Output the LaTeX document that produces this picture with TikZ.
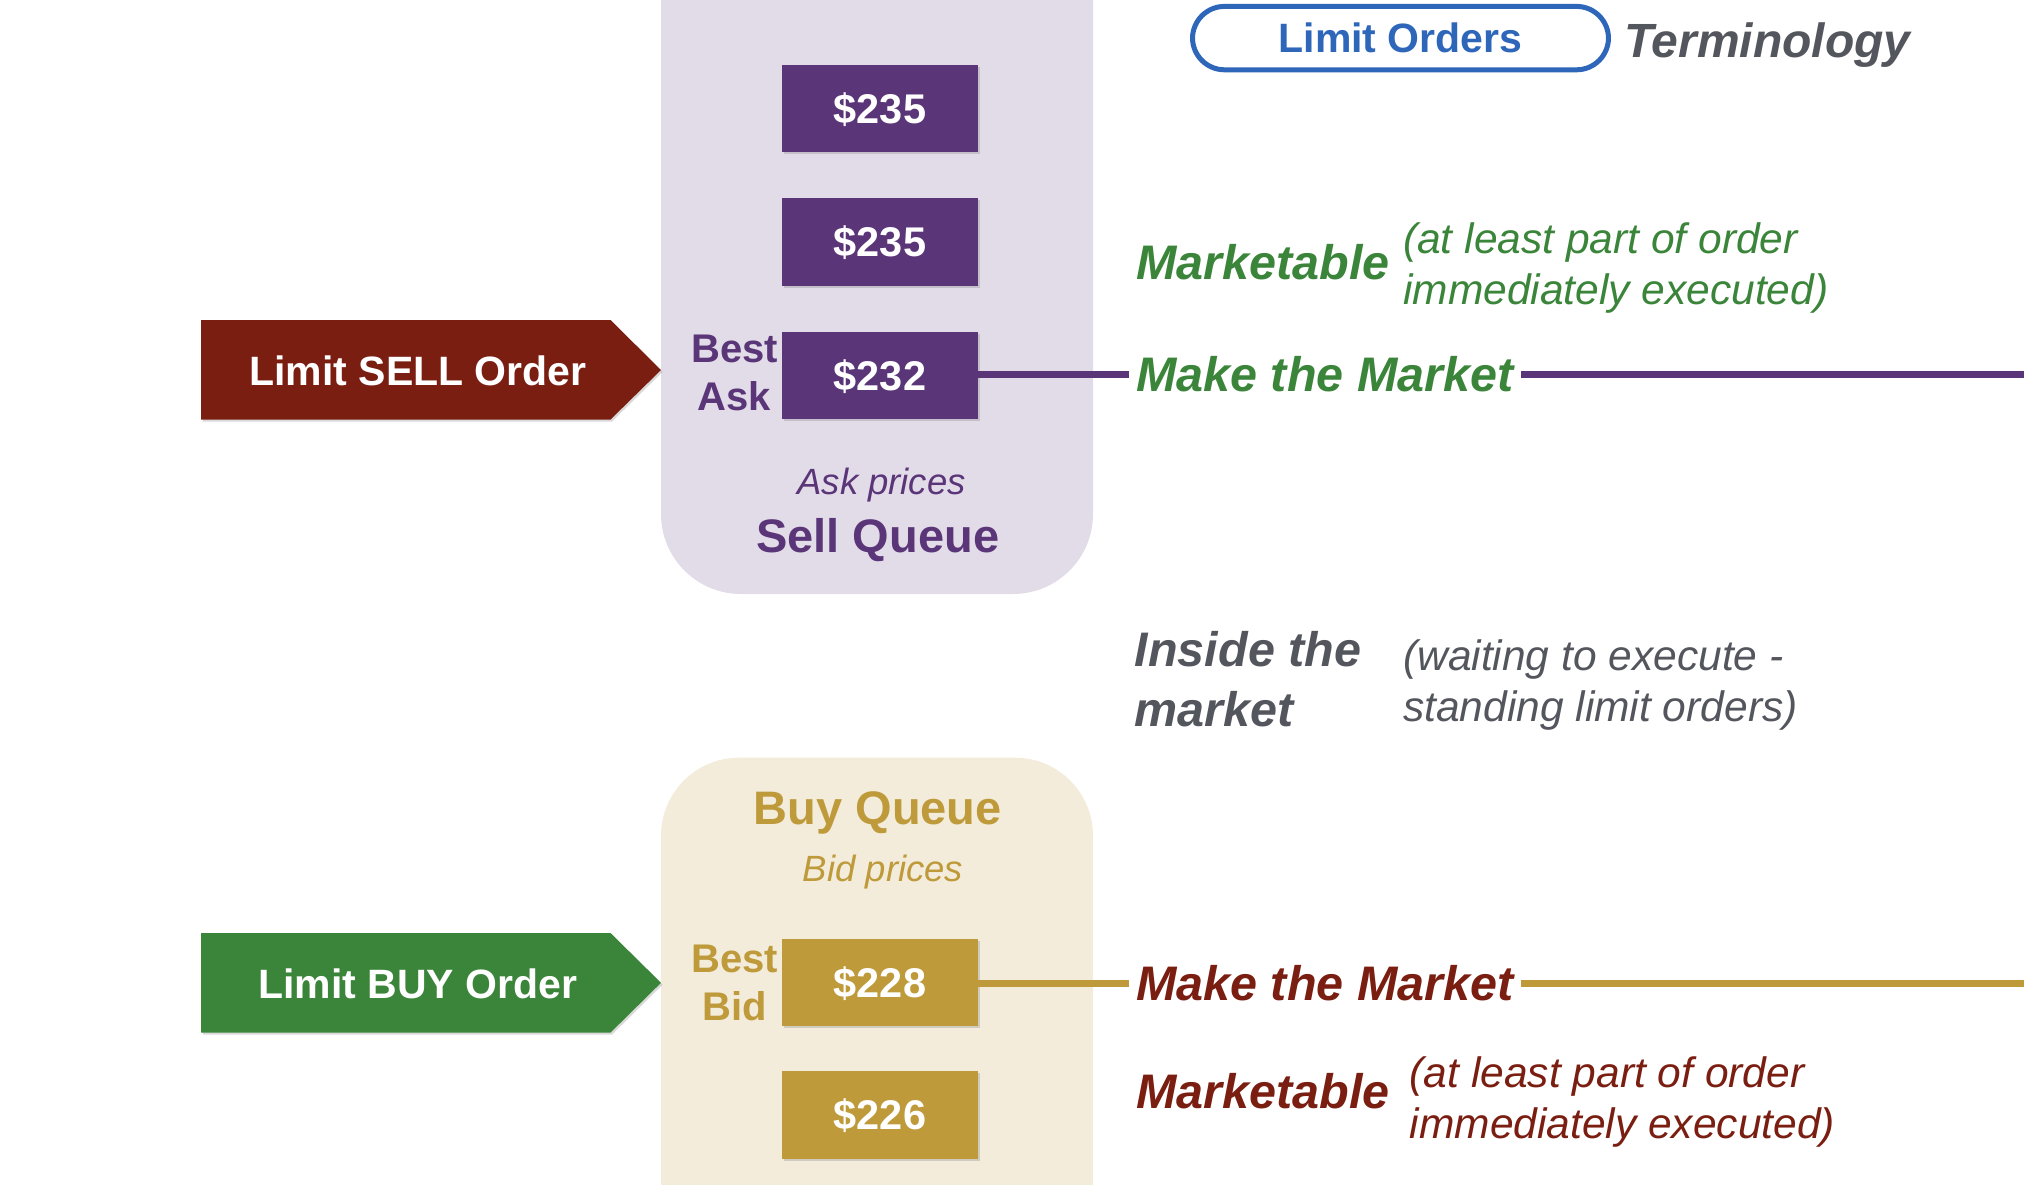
\documentclass[tikz,border=0pt]{standalone}
\usepackage{fontspec}
\setmainfont{Liberation Sans}
\usetikzlibrary{shadows}
\definecolor{purpleC}{HTML}{5A3578}
\definecolor{lavC}{HTML}{E2DBE8}
\definecolor{goldC}{HTML}{BE9A3A}
\definecolor{beigeC}{HTML}{F3ECDB}
\definecolor{redC}{HTML}{7B1E12}
\definecolor{greenC}{HTML}{3B853A}
\definecolor{grayC}{HTML}{54565E}
\definecolor{blueC}{HTML}{2E66BA}
\newcommand\fsz[2]{\fontsize{#1}{#2}\selectfont}
\begin{document}
\begin{tikzpicture}[x=1pt,y=-1pt,
  shad/.style={drop shadow={opacity=0.3,shadow xshift=1.5pt,shadow yshift=-2pt}},
  pricebox/.style={rectangle,minimum width=196pt,minimum height=87.5pt,inner sep=0pt,text height=29.5pt,text depth=0pt,text=white,font=\fsz{41.5}{48}\bfseries,shad},
  arrowtxt/.style={inner sep=0pt,text=white,font=\fsz{41}{48}\bfseries},
  besttxt/.style={inner sep=0pt,align=center,font=\fsz{40}{48}\bfseries},
  qtitle/.style={inner sep=0pt,text height=34pt,text depth=0pt,font=\fsz{47}{56}\bfseries},
  qsub/.style={inner sep=0pt,text height=27pt,text depth=0pt,font=\fsz{36.5}{44}\itshape},
  term/.style={inner sep=0pt,anchor=west,font=\fsz{48.5}{59.6}\bfseries\itshape,align=left},
  mmtxt/.style={inner xsep=7pt,inner ysep=0pt,anchor=west,font=\fsz{48.5}{58}\bfseries\itshape},
  paren/.style={inner sep=0pt,anchor=west,align=left,font=\fsz{42.5}{51}\itshape},
  mline/.style={line width=7pt}
]
\useasboundingbox (0,0) rectangle (2024,1184);
\clip (0,0) rectangle (2024,1184);

% queue backgrounds
\node[fill=lavC,rounded corners=80pt,minimum width=432pt,minimum height=744pt,inner sep=0pt] (sellq) at (877,222) {};
\node[fill=beigeC,rounded corners=78pt,minimum width=432pt,minimum height=600pt,inner sep=0pt] (buyq) at (877,1057.7) {};

% order arrows
\fill[redC,shad] (201,320) -- (610.5,320) -- (661,370) -- (610.5,419.5) -- (201,419.5) -- cycle;
\node[arrowtxt] (sellorder) at (418,371) {Limit SELL Order};
\fill[greenC,shad] (201,933) -- (610.5,933) -- (661,982.8) -- (610.5,1032.6) -- (201,1032.6) -- cycle;
\node[arrowtxt] (buyorder) at (417.6,983.5) {Limit BUY Order};

% sell queue
\node[pricebox,fill=purpleC] (a1) at (880,108.4) {\$235};
\node[pricebox,fill=purpleC] (a2) at (880,242) {\$235};
\node[pricebox,fill=purpleC] (a3) at (880,375.6) {\$232};
\node[besttxt,text=purpleC] (bestask) at (734.5,373) {Best\\Ask};
\node[qsub,text=purpleC] (askp) at (881.6,481) {Ask prices};
\node[qtitle,text=purpleC] (sellqt) at (877.7,535) {Sell Queue};

% buy queue
\node[qtitle,text=goldC] (buyqt) at (877.7,807.5) {Buy Queue};
\node[qsub,text=goldC] (bidp) at (883,868) {Bid prices};
\node[pricebox,fill=goldC] (b1) at (880,982.3) {\$228};
\node[pricebox,fill=goldC] (b2) at (880,1115.2) {\$226};
\node[besttxt,text=goldC] (bestbid) at (734.5,982.6) {Best\\Bid};

% title
\node[draw=blueC,line width=5pt,rounded corners=32pt,minimum width=416pt,minimum height=63.4pt,inner sep=0pt,text=blueC,font=\fsz{41}{48}\bfseries] (lo) at (1400.5,38.1) {\raisebox{-3pt}{Limit Orders}};
\node[term,text=grayC,font=\fsz{48}{58}\bfseries\itshape] (termi) at (1624,45.5) {Terminology};

% sell side terms
\node[term,text=greenC] (mkt1) at (1136,262) {Marketable};
\node[paren,text=greenC] (par1) at (1403,268) {(at least part of order\\immediately executed)};
\node[mmtxt,text=greenC] (mm1) at (1129,374.5) {Make the Market};
\coordinate (r1) at (2030,374.5);
\draw[mline,purpleC] (a3.east |- mm1.west) -- (mm1.west);
\draw[mline,purpleC] (mm1.east) -- (r1);

% inside
\node[term,text=grayC] (inside) at (1134.6,679) {Inside the\\market};
\node[paren,text=grayC] (wait) at (1403,685) {(waiting to execute -\\standing limit orders)};

% buy side terms
\node[mmtxt,text=redC] (mm2) at (1129,983.6) {Make the Market};
\coordinate (r2) at (2030,983.6);
\draw[mline,goldC] (b1.east |- mm2.west) -- (mm2.west);
\draw[mline,goldC] (mm2.east) -- (r2);
\node[term,text=redC] (mkt2) at (1136,1090.7) {Marketable};
\node[paren,text=redC] (par2) at (1409.6,1102) {(at least part of order\\immediately executed)};
\end{tikzpicture}
\end{document}
